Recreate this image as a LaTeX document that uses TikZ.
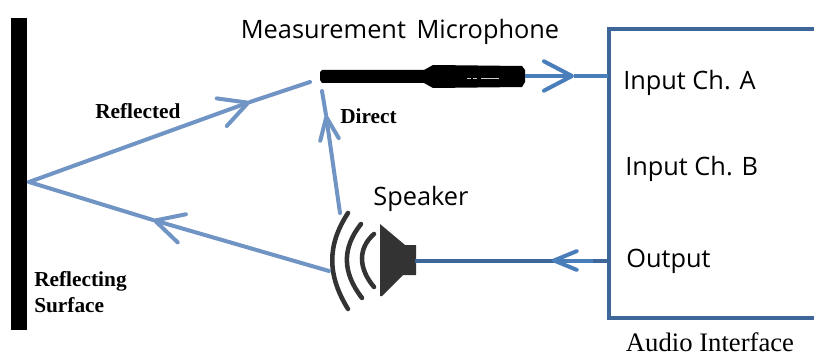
\documentclass[tikz,border=0pt]{standalone}
\usepackage{fontspec}
\setmainfont{Liberation Serif}
\newfontfamily\labelfont{Open Sans}
\usetikzlibrary{arrows.meta, positioning}
\definecolor{RayBlue}{HTML}{7094C3}
\definecolor{BoxBlue}{HTML}{3F6699}
\definecolor{WireBlue}{HTML}{4A7EBB}
\definecolor{HornGray}{HTML}{333333}
\begin{document}
\begin{tikzpicture}[x=.75pt, y=-.75pt,
    ray/.style={RayBlue, line width=3pt, line cap=round},
    wire/.style={WireBlue, line width=3pt},
    box/.style={BoxBlue, line width=3pt},
    wave/.style={HornGray, line width=3.4pt, line cap=round},
    head/.style={-{Straight Barb[length=21pt, width=22pt, round]}},
    smallhead/.style={-{Straight Barb[length=17pt, width=14pt, round]}},
    sans/.style={font=\labelfont\fontsize{19}{22}\selectfont, inner sep=0pt},
    serif/.style={font=\bfseries\fontsize{16}{18}\selectfont, inner sep=0pt}]
    \useasboundingbox (0,0) rectangle (814,356);
    % reflecting wall
    \fill[black] (11,18) rectangle (27,330);
    % points the rays run through
    \coordinate (bounce) at (29,182);
    \coordinate (micend) at (310,82);
    \coordinate (reflecttip) at (250,102);
    \coordinate (spkleft) at (329,271);
    \coordinate (backtip) at (153,220);
    \coordinate (spktop) at (340,213);
    \coordinate (michead) at (322,91);
    \coordinate (directtip) at (326,115);
    \coordinate (micout) at (525,76);
    \coordinate (micin) at (608,76);
    \coordinate (wiretip) at (574,76);
    \coordinate (boxout) at (608,260.5);
    \coordinate (spkin) at (415,260.5);
    \coordinate (outtip) at (552,260.5);
    \coordinate (outlight) at (593,260.5);
    % microphone
    \fill[black] (322,70) -- (424,70) -- (433,65) -- (522,66) -- (525,70) -- (525,82)
        -- (522,87) -- (433,88) -- (424,83) -- (322,83) -- (320,80) -- (320,72) -- cycle;
    \draw[white!80!black, line width=.6pt] (467,78) -- (471,78) (473,78) -- (477,78) (481,78) -- (499,78);
    % speaker
    \fill[HornGray] (380,224) -- (405,245) -- (416,245) -- (416,275) -- (403,275)
        -- (382,296) -- (380,296) -- cycle;
    \draw[wave] (348,213) .. controls (327,245) and (327,275) .. (348,309);
    \draw[wave] (361,224) .. controls (342,248) and (342,272) .. (362,298);
    \draw[wave] (374,234) .. controls (358,248) and (358,268) .. (374,287);
    % rays
    \draw[ray, head] (bounce) -- (reflecttip);
    \draw[ray] (reflecttip) -- (micend);
    \draw[ray, head] (spkleft) -- (backtip);
    \draw[ray] (backtip) -- (bounce);
    \draw[ray, smallhead] (spktop) -- (directtip);
    \draw[ray] (directtip) -- (michead);
    % audio interface
    \draw[box] (814,29) -- (608.5,29) -- (608.5,318) -- (814,318);
    \draw[wire, head] (micout) -- (wiretip);
    \draw[wire] (wiretip) -- (micin);
    \draw[box] (boxout) -- (spkin);
    \draw[wire, smallhead] (outlight) -- (outtip);
    % labels
    \node[sans] (micname) at (400,32) {Measurement\hspace{3pt} Microphone};
    \node[sans] (spkname) at (421,199) {Speaker};
    \node[sans, anchor=west] (cha) at (623,83) {Input Ch. A};
    \node[sans, anchor=west] (chb) at (625,169) {Input Ch. B};
    \node[sans, anchor=west] (output) at (626,261) {Output};
    \node[serif, anchor=west] (reflected) at (95,111) {Reflected};
    \node[serif, anchor=west] (direct) at (340,116) {Direct};
    \node[serif, anchor=west] (reflecting) at (34,281) {Reflecting};
    \node[serif, anchor=west] (surface) at (34,305) {Surface};
    \node[inner sep=0pt, font=\fontsize{20}{22}\selectfont] (interface) at (710,342) {Audio Interface};
\end{tikzpicture}
\end{document}
